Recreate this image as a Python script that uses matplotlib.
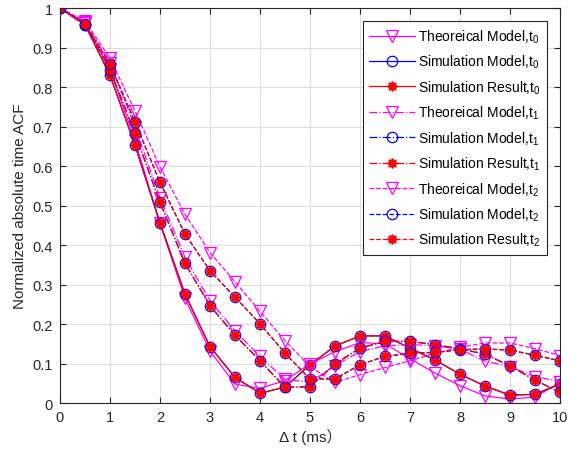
import matplotlib
matplotlib.use("Agg")
import matplotlib.pyplot as plt

plt.rcParams['font.family'] = ['Liberation Sans', 'Noto Sans CJK SC', 'DejaVu Sans']
plt.rcParams['mathtext.fontset'] = 'custom'
plt.rcParams['mathtext.rm'] = 'Liberation Sans'
plt.rcParams['mathtext.it'] = 'Liberation Sans'

x = [0.0, 0.5, 1.0, 1.5, 2.0, 2.5, 3.0, 3.5, 4.0, 4.5, 5.0,
     5.5, 6.0, 6.5, 7.0, 7.5, 8.0, 8.5, 9.0, 9.5, 10.0]

theo_t0 = [1.0, 0.963, 0.845, 0.665, 0.455, 0.265, 0.132, 0.048, 0.037, 0.057, 0.099,
           0.130, 0.153, 0.150, 0.112, 0.076, 0.044, 0.018, 0.010, 0.015, 0.052]
sim_t0 = [1.0, 0.958, 0.830, 0.653, 0.456, 0.276, 0.143, 0.065, 0.025, 0.040, 0.097,
          0.144, 0.170, 0.170, 0.139, 0.109, 0.073, 0.043, 0.020, 0.022, 0.048]
res_t0 = [1.0, 0.958, 0.830, 0.653, 0.456, 0.276, 0.143, 0.065, 0.025, 0.040, 0.097,
          0.144, 0.170, 0.170, 0.139, 0.109, 0.073, 0.043, 0.020, 0.022, 0.048]

theo_t1 = [1.0, 0.965, 0.860, 0.700, 0.520, 0.369, 0.259, 0.183, 0.118, 0.060, 0.052,
           0.095, 0.130, 0.145, 0.148, 0.145, 0.136, 0.106, 0.092, 0.067, 0.054]
sim_t1 = [1.0, 0.958, 0.844, 0.683, 0.508, 0.354, 0.246, 0.172, 0.107, 0.040, 0.041,
          0.099, 0.139, 0.156, 0.156, 0.148, 0.137, 0.124, 0.094, 0.058, 0.027]
res_t1 = [1.0, 0.958, 0.844, 0.683, 0.508, 0.354, 0.246, 0.172, 0.107, 0.040, 0.041,
          0.099, 0.139, 0.156, 0.156, 0.148, 0.137, 0.124, 0.094, 0.058, 0.027]

theo_t2 = [1.0, 0.967, 0.873, 0.740, 0.598, 0.478, 0.381, 0.307, 0.232, 0.158, 0.092,
           0.052, 0.072, 0.090, 0.107, 0.126, 0.141, 0.152, 0.152, 0.138, 0.120]
sim_t2 = [1.0, 0.960, 0.858, 0.712, 0.559, 0.428, 0.335, 0.268, 0.201, 0.126, 0.061,
          0.061, 0.097, 0.118, 0.126, 0.128, 0.135, 0.137, 0.134, 0.121, 0.107]
res_t2 = [1.0, 0.960, 0.858, 0.712, 0.559, 0.428, 0.335, 0.268, 0.201, 0.126, 0.061,
          0.061, 0.097, 0.118, 0.126, 0.128, 0.135, 0.137, 0.134, 0.121, 0.107]

labels = ['Theoreical Model,t$_0$', 'Simulation Model,t$_0$', 'Simulation Result,t$_0$',
          'Theoreical Model,t$_1$', 'Simulation Model,t$_1$', 'Simulation Result,t$_1$',
          'Theoreical Model,t$_2$', 'Simulation Model,t$_2$', 'Simulation Result,t$_2$']

fig = plt.figure(figsize=(5.69, 4.56), dpi=100)
ax = fig.add_axes([0.1054, 0.114, 0.8787, 0.866])

M, B, R = '#ff00ff', '#0000ff', '#ff0000'
series = [
    (theo_t0, '-', M, 'v'), (sim_t0, '-', B, 'o'), (res_t0, '-', R, (8, 2, 0)),
    (theo_t1, '-.', M, 'v'), (sim_t1, '-.', B, 'o'), (res_t1, '-.', R, (8, 2, 0)),
    (theo_t2, '--', M, 'v'), (sim_t2, '--', B, 'o'), (res_t2, '--', R, (8, 2, 0)),
]
for (y, ls, c, mk), lab in zip(series, labels):
    if mk == 'v':
        ms, mew = 8.5, 0.9
    elif mk == 'o':
        ms, mew = 7.5, 0.9
    else:
        ms, mew = 7, 1.3
    ax.plot(x, y, linestyle=ls, color=c, marker=mk, markersize=ms,
            markerfacecolor='none', markeredgecolor=c, markeredgewidth=mew,
            linewidth=0.9, label=lab)

ax.set_xlim(0, 10)
ax.set_ylim(0, 1)
ax.set_xticks(range(0, 11))
ax.set_yticks([i / 10 for i in range(11)])
ax.set_yticklabels(['0', '0.1', '0.2', '0.3', '0.4', '0.5', '0.6', '0.7', '0.8', '0.9', '1'])
ax.grid(True, color='#dedede', linewidth=0.8)
ax.set_axisbelow(True)
ax.tick_params(direction='in', top=True, right=True, labelsize=10.5, colors='#262626',
               length=4, pad=5)
for s in ax.spines.values():
    s.set_color('#262626')
    s.set_linewidth(0.8)

ax.set_xlabel('Δ t (ms）', fontsize=11, color='#262626', labelpad=3)
ax.set_ylabel('Normalized absolute time ACF', fontsize=11, color='#262626')

leg = ax.legend(loc='upper right', bbox_to_anchor=(0.974, 0.967), fontsize=10,
                handlelength=3.3, numpoints=1, fancybox=False, framealpha=1,
                edgecolor='#262626', labelspacing=0.58, borderpad=0.45,
                handletextpad=0.2, borderaxespad=0)
leg.get_frame().set_linewidth(0.8)

fig.savefig('out.png', dpi=100)
